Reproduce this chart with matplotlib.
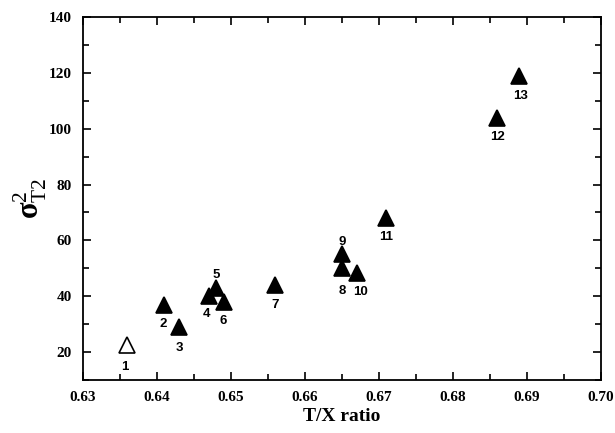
import matplotlib
matplotlib.use('Agg')
import matplotlib.pyplot as plt
from matplotlib.ticker import MultipleLocator, FormatStrFormatter

plt.rcParams['font.family'] = ['Liberation Serif', 'DejaVu Serif']
plt.rcParams['mathtext.fontset'] = 'custom'
plt.rcParams['mathtext.rm'] = 'Liberation Serif'
plt.rcParams['mathtext.it'] = 'Liberation Serif:italic'
plt.rcParams['mathtext.bf'] = 'Liberation Serif:bold'

# 数据：T/X 比值与 sigma^2_T2
labels = ['1', '2', '3', '4', '5', '6', '7', '8', '9', '10', '11', '12', '13']
tx_ratio = [0.636, 0.641, 0.643, 0.647, 0.648, 0.649, 0.656, 0.665, 0.665, 0.667, 0.671, 0.686, 0.689]
sigma2 = [22.5, 37, 29, 40, 43, 38, 44, 50, 55, 48.5, 68, 104, 119]
filled = [False] + [True] * 12

# 标注偏移 (像素点)
label_dx = [-2, -1, 0, -2, 0, 0, 0, 0, 0, 3, 0, 0, 1]
label_dy = [-16, -14, -15, -13, 9, -14, -14, -16, 9, -14, -14, -14, -15]

fig = plt.figure(figsize=(6.15, 4.33), dpi=100)
ax = fig.add_axes([0.135, 0.1224, 0.842, 0.8383])

for x, y, f in zip(tx_ratio, sigma2, filled):
    ax.plot(x, y, marker='^', markersize=11.5,
            markerfacecolor='black' if f else 'white',
            markeredgecolor='black', markeredgewidth=1.2, linestyle='none')

for lab, x, y, dx, dy in zip(labels, tx_ratio, sigma2, label_dx, label_dy):
    ax.annotate(lab, (x, y), xytext=(dx, dy), textcoords='offset points',
                ha='center', va='center', fontsize=9.5, fontweight='bold',
                family=['Liberation Sans', 'DejaVu Sans'])

ax.set_xlim(0.63, 0.70)
ax.set_ylim(10, 140)
ax.xaxis.set_major_locator(MultipleLocator(0.01))
ax.xaxis.set_minor_locator(MultipleLocator(0.005))
ax.xaxis.set_major_formatter(FormatStrFormatter('%.2f'))
ax.yaxis.set_minor_locator(MultipleLocator(10))
ax.set_yticks([20, 40, 60, 80, 100, 120, 140])

ax.tick_params(which='both', direction='in', top=True, right=True, width=1.2)
ax.tick_params(which='major', length=6, labelsize=11, pad=8)
ax.tick_params(which='minor', length=4)
for lbl in ax.get_xticklabels() + ax.get_yticklabels():
    lbl.set_fontweight('bold')
for sp in ax.spines.values():
    sp.set_linewidth(1.3)

ax.set_xlabel('T/X ratio', fontsize=14, fontweight='bold', labelpad=3)
ax.set_ylabel(r'$\mathbf{\sigma}^{2}_{\mathrm{T2}}$', fontsize=22, labelpad=0)

plt.savefig('out.png', dpi=100)
